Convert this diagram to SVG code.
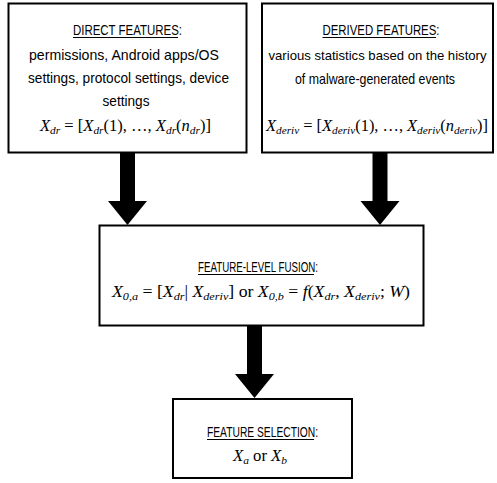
<svg xmlns="http://www.w3.org/2000/svg" width="497" height="483" viewBox="0 0 497 483">
  <style>
    .box { fill: #ffffff; stroke: #000000; stroke-width: 2; }
    .arrow { fill: #000000; stroke: none; }
    .ul { stroke: #000000; stroke-width: 1; }
    .t { font-family: "Liberation Sans", Arial, sans-serif; font-size: 15px; fill: #000000; text-anchor: middle; }
    .m { font-family: "Liberation Serif", "Times New Roman", serif; font-size: 16px; fill: #000000; text-anchor: middle; }
    .i { font-style: italic; }
    .s { font-style: italic; font-size: 11px; }
  </style>
  <rect width="497" height="483" fill="#ffffff"/>

  <!-- connectors: thick block arrows -->
  <g id="connectors">
    <polygon class="arrow" points="120,153 135,153 135,201 147,201 127.5,225 108,201 120,201"/>
    <polygon class="arrow" points="372.5,153 387.5,153 387.5,201 399.5,201 380,225 360.5,201 372.5,201"/>
    <polygon class="arrow" points="247,326 262,326 262,374 274,374 254.5,398 235,374 247,374"/>
  </g>

  <g id="direct-features">
    <rect class="box" x="8.5" y="3.5" width="238" height="149"/>
    <text class="t" x="127.5" y="35" textLength="109" lengthAdjust="spacingAndGlyphs">DIRECT FEATURES:</text>
    <line class="ul" x1="73" y1="37.5" x2="178" y2="37.5"/>
    <text class="t" x="124" y="60" textLength="190" lengthAdjust="spacingAndGlyphs">permissions, Android apps/OS</text>
    <text class="t" x="128.5" y="83" textLength="201" lengthAdjust="spacingAndGlyphs">settings, protocol settings, device</text>
    <text class="t" x="126" y="106" textLength="47" lengthAdjust="spacingAndGlyphs">settings</text>
    <text class="m" x="125.5" y="131" textLength="171" lengthAdjust="spacingAndGlyphs"><tspan class="i">X</tspan><tspan class="s" dy="3">dr</tspan><tspan dy="-3"> = [</tspan><tspan class="i">X</tspan><tspan class="s" dy="3">dr</tspan><tspan dy="-3">(1), …, </tspan><tspan class="i">X</tspan><tspan class="s" dy="3">dr</tspan><tspan dy="-3">(</tspan><tspan class="i">n</tspan><tspan class="s" dy="3">dr</tspan><tspan dy="-3">)]</tspan></text>
  </g>

  <g id="derived-features">
    <rect class="box" x="262" y="3.5" width="231" height="149"/>
    <text class="t" x="381" y="35" textLength="117" lengthAdjust="spacingAndGlyphs">DERIVED FEATURES:</text>
    <line class="ul" x1="322.5" y1="37.5" x2="436" y2="37.5"/>
    <text class="t" x="377.5" y="60" font-size="13.5" style="font-size:13.5px" textLength="218" lengthAdjust="spacingAndGlyphs">various statistics based on the history</text>
    <text class="t" x="375" y="84" textLength="160" lengthAdjust="spacingAndGlyphs">of malware-generated events</text>
    <text class="m" x="377" y="131" textLength="222" lengthAdjust="spacingAndGlyphs"><tspan class="i">X</tspan><tspan class="s" dy="3">deriv</tspan><tspan dy="-3"> = [</tspan><tspan class="i">X</tspan><tspan class="s" dy="3">deriv</tspan><tspan dy="-3">(1), …, </tspan><tspan class="i">X</tspan><tspan class="s" dy="3">deriv</tspan><tspan dy="-3">(</tspan><tspan class="i">n</tspan><tspan class="s" dy="3">deriv</tspan><tspan dy="-3">)]</tspan></text>
  </g>

  <g id="feature-fusion">
    <rect class="box" x="99.5" y="225.5" width="324" height="100"/>
    <text class="t" x="258" y="272" textLength="120" lengthAdjust="spacingAndGlyphs">FEATURE-LEVEL FUSION:</text>
    <line class="ul" x1="198" y1="274.5" x2="314" y2="274.5"/>
    <text class="m" x="261" y="297" textLength="298" lengthAdjust="spacingAndGlyphs"><tspan class="i">X</tspan><tspan class="s" dy="3">0,a</tspan><tspan dy="-3"> = [</tspan><tspan class="i">X</tspan><tspan class="s" dy="3">dr</tspan><tspan dy="-3">| </tspan><tspan class="i">X</tspan><tspan class="s" dy="3">deriv</tspan><tspan dy="-3">] or </tspan><tspan class="i">X</tspan><tspan class="s" dy="3">0,b</tspan><tspan dy="-3"> = </tspan><tspan class="i">f</tspan><tspan>(</tspan><tspan class="i">X</tspan><tspan class="s" dy="3">dr</tspan><tspan dy="-3">, </tspan><tspan class="i">X</tspan><tspan class="s" dy="3">deriv</tspan><tspan dy="-3">; </tspan><tspan class="i">W</tspan><tspan>)</tspan></text>
  </g>

  <g id="feature-selection">
    <rect class="box" x="173" y="399" width="179" height="79"/>
    <text class="t" x="262.5" y="437" textLength="111" lengthAdjust="spacingAndGlyphs">FEATURE SELECTION:</text>
    <line class="ul" x1="207" y1="439.5" x2="314" y2="439.5"/>
    <text class="m" x="260" y="461" textLength="54" lengthAdjust="spacingAndGlyphs"><tspan class="i">X</tspan><tspan class="s" dy="3">a</tspan><tspan dy="-3"> or </tspan><tspan class="i">X</tspan><tspan class="s" dy="3">b</tspan></text>
  </g>
</svg>
